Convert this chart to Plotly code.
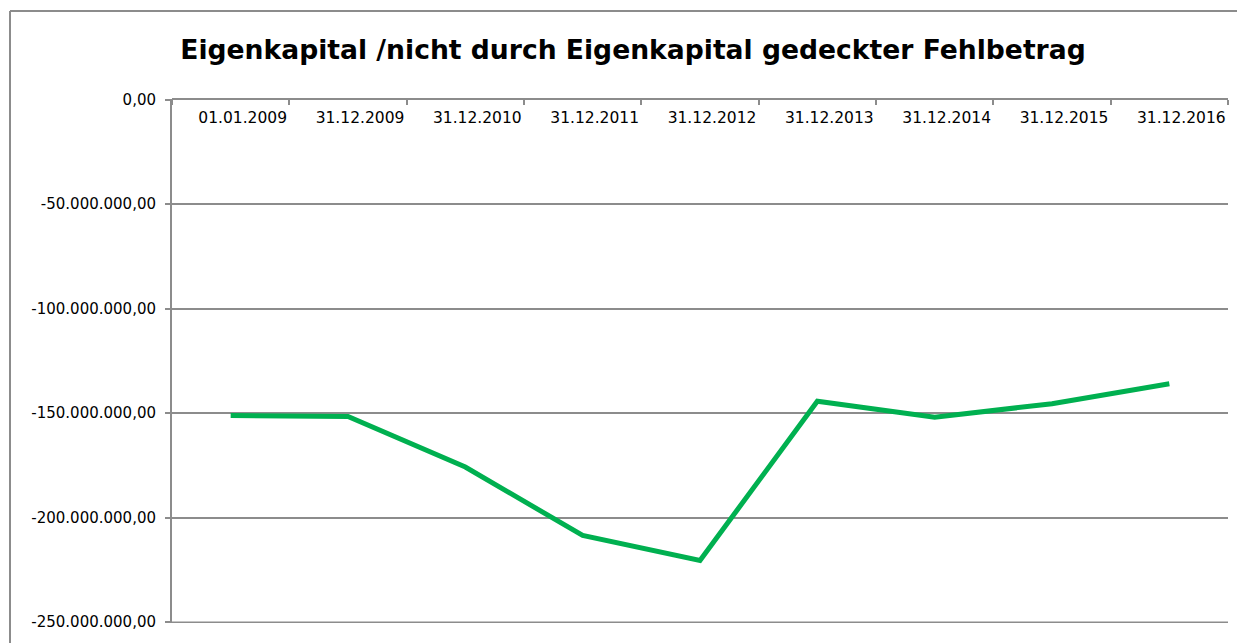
import plotly.graph_objects as go

categories = ["01.01.2009", "31.12.2009", "31.12.2010", "31.12.2011", "31.12.2012",
              "31.12.2013", "31.12.2014", "31.12.2015", "31.12.2016"]
values = [-151.1e6, -151.6e6, -175.8e6, -208.5e6, -220.5e6,
          -144.3e6, -151.9e6, -145.5e6, -135.9e6]
y_tick_values = [0, -50e6, -100e6, -150e6, -200e6, -250e6]
y_tick_labels = ["0,00", "-50.000.000,00", "-100.000.000,00", "-150.000.000,00",
                 "-200.000.000,00", "-250.000.000,00"]
title_text = "Eigenkapital /nicht durch Eigenkapital gedeckter Fehlbetrag"

# page body has an 8px default margin, so figure coords = screen coords - 8
OFF = 8
W, H = 1245, 643
L, T = 172 - OFF, 99 - OFF
R = W - (1228 - OFF)
B = H - (622.7 - OFF)
pw = W - L - R
ph = H - T - B

fig = go.Figure()
fig.add_trace(go.Scatter(
    x=categories, y=values, mode="lines",
    line=dict(color="#00b050", width=5),
    hoverinfo="x+y",
))

grid = "#8c8c8c"
bx0 = (10 - OFF - L) / pw
by1 = 1 + (T - (11 - OFF)) / ph
fig.update_layout(
    width=W, height=H,
    margin=dict(l=L, r=R, t=T, b=B, autoexpand=False),
    paper_bgcolor="white", plot_bgcolor="white",
    showlegend=False,
    font=dict(family="DejaVu Sans", size=15, color="#000000"),
    title=dict(text=title_text, x=(633 - OFF) / W, xanchor="center",
               y=1 - (50 - OFF) / H, yanchor="middle",
               font=dict(family="DejaVu Sans", size=26.6, color="#000000", weight="bold")),
    xaxis=dict(
        type="category", side="bottom", anchor="free", position=1,
        range=[-0.5, 8.5],
        showline=True, linecolor=grid, linewidth=2,
        ticks="outside", ticklen=5, tickcolor=grid, tickwidth=2,
        tickson="boundaries",
        ticklabelshift=12, ticklabelstandoff=4,
        showgrid=False, zeroline=False,
        tickfont=dict(size=15.5),
    ),
    yaxis=dict(
        range=[-250.4e6, 0.3e6], tickvals=y_tick_values, ticktext=y_tick_labels,
        showline=True, linecolor=grid, linewidth=2,
        ticks="outside", ticklen=5, tickcolor=grid, tickwidth=2,
        showgrid=True, gridcolor=grid, gridwidth=1.5, zeroline=False,
        tickfont=dict(size=15), ticklabelstandoff=6,
    ),
    shapes=[
        dict(type="line", xref="paper", yref="paper",
             x0=bx0, x1=(W - L) / pw, y0=by1, y1=by1,
             line=dict(color="#8c8c8c", width=2), layer="below"),
        dict(type="line", xref="paper", yref="paper",
             x0=bx0, x1=bx0, y0=-B / ph, y1=by1,
             line=dict(color="#8c8c8c", width=2), layer="below"),
        dict(type="line", xref="paper", yref="y",
             x0=0, x1=1, y0=y_tick_values[-1], y1=y_tick_values[-1],
             line=dict(color=grid, width=1.5), layer="below"),
    ],
)

fig.write_html("out.html")
